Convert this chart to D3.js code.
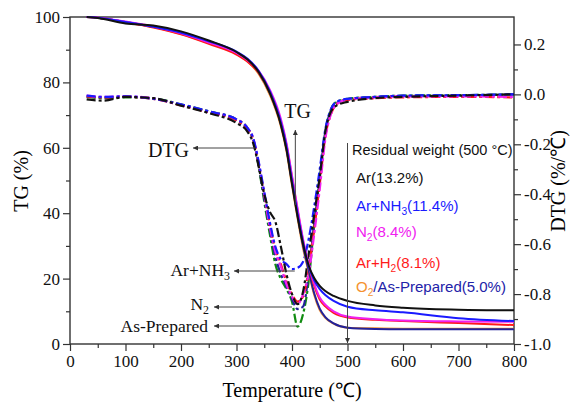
<!DOCTYPE html>
<html>
<head>
<meta charset="utf-8">
<script src="https://cdn.jsdelivr.net/npm/d3@7"></script>
<style>
  body { margin: 0; background: #fff; }
  svg { display: block; }
</style>
</head>
<body>
<svg></svg>
<script>
var width = 570;
var height = 403;

// ---- data ----
var tgTemps = [30, 50, 100, 150, 200, 250, 300, 320, 340, 360, 380, 390, 400, 410, 420, 430, 440, 450, 460, 475, 500, 550, 600, 700, 800];
var tgAr       = [100, 99.7, 98.0, 97.4, 95.6, 92.8, 89.3, 87.0, 83.2, 76.8, 67.0, 59.5, 49.0, 39.0, 30.5, 24.0, 20.2, 17.8, 16.2, 14.7, 13.2, 11.8, 11.1, 10.5, 10.3];
var tgArNH3    = [100, 99.8, 98.5, 97.0, 95.2, 92.6, 89.4, 87.2, 83.5, 77.3, 67.8, 60.5, 50.0, 40.0, 31.0, 23.8, 19.5, 16.8, 15.0, 13.2, 11.4, 10.3, 9.7, 7.9, 7.0];
var tgN2       = [100, 99.8, 98.6, 97.1, 95.0, 92.2, 89.0, 86.8, 83.5, 77.8, 68.8, 61.5, 51.5, 41.5, 32.0, 24.5, 18.5, 14.2, 12.0, 10.0, 8.4, 7.6, 7.2, 6.9, 6.8];
var tgArH2     = [100, 99.8, 98.4, 96.8, 94.7, 91.8, 88.5, 86.3, 83.0, 77.2, 68.2, 61.0, 51.0, 41.0, 31.5, 24.0, 17.8, 13.6, 11.5, 9.5, 8.1, 7.4, 7.0, 6.4, 5.8];
var tgAsPrep   = [100, 99.8, 98.5, 97.0, 95.0, 92.3, 89.0, 86.7, 83.0, 76.8, 67.2, 59.8, 49.5, 39.5, 30.0, 22.5, 15.5, 10.8, 8.2, 6.3, 5.0, 4.6, 4.5, 4.5, 4.5];
var tgO2       = [100, 99.8, 98.4, 96.9, 94.8, 92.0, 88.7, 86.4, 82.6, 76.2, 66.5, 59.0, 48.5, 38.5, 29.2, 22.0, 15.0, 10.4, 8.0, 6.2, 5.0, 4.8, 4.7, 4.7, 4.7];

var dtgTemps = [30, 60, 100, 150, 200, 250, 300, 320, 330, 340, 350, 360, 370, 380, 390, 400, 410, 420, 430, 440, 450, 460, 470, 480, 500, 550, 600, 700, 800];
var dtgAr     = [-0.020, -0.025, -0.010, -0.015, -0.045, -0.075, -0.115, -0.150, -0.195, -0.290, -0.400, -0.470, -0.510, -0.610, -0.720, -0.800, -0.840, -0.790, -0.640, -0.480, -0.330, -0.150, -0.070, -0.045, -0.030, -0.015, -0.010, -0.005, 0.000];
var dtgArNH3  = [-0.005, -0.010, -0.008, -0.018, -0.040, -0.068, -0.100, -0.135, -0.175, -0.270, -0.390, -0.510, -0.610, -0.660, -0.680, -0.700, -0.695, -0.670, -0.580, -0.450, -0.300, -0.140, -0.060, -0.030, -0.018, -0.010, -0.005, -0.003, 0.000];
var dtgN2     = [-0.005, -0.010, -0.008, -0.016, -0.042, -0.070, -0.100, -0.135, -0.175, -0.275, -0.400, -0.530, -0.630, -0.690, -0.760, -0.810, -0.840, -0.800, -0.720, -0.560, -0.380, -0.180, -0.080, -0.040, -0.020, -0.012, -0.008, -0.008, -0.010];
var dtgArH2   = [-0.008, -0.012, -0.010, -0.018, -0.044, -0.072, -0.105, -0.140, -0.180, -0.280, -0.400, -0.520, -0.620, -0.680, -0.750, -0.800, -0.830, -0.810, -0.700, -0.540, -0.360, -0.170, -0.080, -0.040, -0.022, -0.015, -0.012, -0.010, -0.012];
var dtgAsPrep = [-0.010, -0.015, -0.012, -0.016, -0.040, -0.068, -0.100, -0.135, -0.180, -0.290, -0.430, -0.560, -0.680, -0.740, -0.780, -0.830, -0.930, -0.880, -0.750, -0.520, -0.330, -0.150, -0.060, -0.030, -0.018, -0.010, -0.005, -0.003, 0.000];
var dtgO2     = [-0.008, -0.012, -0.010, -0.017, -0.042, -0.070, -0.102, -0.138, -0.180, -0.285, -0.415, -0.540, -0.650, -0.720, -0.770, -0.820, -0.860, -0.850, -0.720, -0.520, -0.340, -0.150, -0.065, -0.035, -0.020, -0.010, -0.006, -0.004, 0.000];

var xTicks = [0, 100, 200, 300, 400, 500, 600, 700, 800];
var xMinor = [50, 150, 250, 350, 450, 550, 650, 750];
var tgTicks = [0, 20, 40, 60, 80, 100];
var tgMinor = [10, 30, 50, 70, 90];
var dtgTicks = [-1.0, -0.8, -0.6, -0.4, -0.2, 0.0, 0.2];
var dtgMinor = [-0.9, -0.7, -0.5, -0.3, -0.1, 0.1];

var legendTitle = 'Residual weight (500 \u00B0C)';
var legendRows = [
  [{t: 'Ar(13.2%)', c: '#111'}],
  [{t: 'Ar+NH', c: '#1a1aff'}, {t: '3', c: '#1a1aff', sub: true}, {t: '(11.4%)', c: '#1a1aff'}],
  [{t: 'N', c: '#f020f0'}, {t: '2', c: '#f020f0', sub: true}, {t: '(8.4%)', c: '#f020f0'}],
  [{t: 'Ar+H', c: '#ff1a1a'}, {t: '2', c: '#ff1a1a', sub: true}, {t: '(8.1%)', c: '#ff1a1a'}],
  [{t: 'O', c: '#f5922e'}, {t: '2', c: '#f5922e', sub: true}, {t: '/As-Prepared(5.0%)', c: '#2222a8'}]
];

var serif = '"Liberation Serif", "Times New Roman", serif';
var sans = '"Liberation Sans", Arial, sans-serif';

var svg = d3.select('svg')
  .attr('width', width)
  .attr('height', height)
  .style('background-color', '#fff');

var x = d3.scaleLinear().domain([0, 800]).range([70, 514]);
var yTG = d3.scaleLinear().domain([0, 100]).range([344, 17]);
var yDTG = d3.scaleLinear().domain([-1.0, 0.31]).range([344, 17]);

svg.append('defs').append('marker')
  .attr('id', 'arr')
  .attr('viewBox', '0 0 10 10')
  .attr('refX', 10).attr('refY', 5)
  .attr('markerWidth', 7).attr('markerHeight', 5)
  .attr('orient', 'auto')
  .append('path').attr('d', 'M0,0 L10,5 L0,10 z').attr('fill', '#333');

// ---- axes ----
function styleAxis(g) {
  g.attr('font-family', serif).attr('font-size', 17);
  g.select('.domain').remove();
  g.selectAll('line').attr('stroke', '#333').attr('stroke-width', 1.2);
  g.selectAll('text').attr('font-family', serif).attr('font-size', 17).attr('fill', '#111');
}

svg.append('g').attr('transform', 'translate(0,344)')
  .call(d3.axisBottom(x).tickValues(xTicks).tickSize(7).tickPadding(4).tickFormat(d3.format('d')))
  .call(styleAxis);
svg.append('g').attr('transform', 'translate(0,344)')
  .call(d3.axisBottom(x).tickValues(xMinor).tickSize(4).tickFormat(''))
  .call(styleAxis);

svg.append('g').attr('transform', 'translate(70,0)')
  .call(d3.axisLeft(yTG).tickValues(tgTicks).tickSize(7).tickPadding(3))
  .call(styleAxis);
svg.append('g').attr('transform', 'translate(70,0)')
  .call(d3.axisLeft(yTG).tickValues(tgMinor).tickSize(4).tickFormat(''))
  .call(styleAxis);

svg.append('g').attr('transform', 'translate(514,0)')
  .call(d3.axisRight(yDTG).tickValues(dtgTicks).tickSize(7).tickPadding(3)
    .tickFormat(function(d) { return d.toFixed(1); }))
  .call(styleAxis);
svg.append('g').attr('transform', 'translate(514,0)')
  .call(d3.axisRight(yDTG).tickValues(dtgMinor).tickSize(4).tickFormat(''))
  .call(styleAxis);

svg.append('rect')
  .attr('x', 70).attr('y', 17)
  .attr('width', 444).attr('height', 327)
  .attr('fill', 'none').attr('stroke', '#333').attr('stroke-width', 1.4);

// axis titles
svg.append('text')
  .attr('transform', 'translate(28,181) rotate(-90)')
  .attr('text-anchor', 'middle')
  .attr('font-family', serif).attr('font-size', 20)
  .text('TG (%)');
svg.append('text')
  .attr('transform', 'translate(565,181) rotate(-90)')
  .attr('text-anchor', 'middle')
  .attr('font-family', serif).attr('font-size', 20)
  .text('DTG (%/\u2103)');
svg.append('text')
  .attr('x', 292).attr('y', 397)
  .attr('text-anchor', 'middle')
  .attr('font-family', serif).attr('font-size', 20)
  .text('Temperature (\u2103)');

// ---- curves ----
function zip(ts, vs) { return ts.map(function(t, i) { return [t, vs[i]]; }); }

var dtgLine = d3.line()
  .x(function(d) { return x(d[0]); })
  .y(function(d) { return yDTG(d[1]); })
  .curve(d3.curveMonotoneX);
var tgLine = d3.line()
  .x(function(d) { return x(d[0]); })
  .y(function(d) { return yTG(d[1]); })
  .curve(d3.curveMonotoneX);

var dtgSeries = [
  {v: dtgAsPrep, c: '#118c11'},
  {v: dtgO2, c: '#22229a'},
  {v: dtgArH2, c: '#ff1a1a'},
  {v: dtgN2, c: '#f020f0'},
  {v: dtgArNH3, c: '#1a1aff'},
  {v: dtgAr, c: '#111'}
];
svg.append('g').selectAll('path')
  .data(dtgSeries)
  .enter().append('path')
    .attr('d', function(d) { return dtgLine(zip(dtgTemps, d.v)); })
    .attr('fill', 'none')
    .attr('stroke', function(d) { return d.c; })
    .attr('stroke-width', 2.2)
    .attr('stroke-dasharray', '9,3,3,3');

var tgSeries = [
  {v: tgO2, c: '#f5922e'},
  {v: tgAsPrep, c: '#22229a'},
  {v: tgArH2, c: '#ff1a1a'},
  {v: tgN2, c: '#f020f0'},
  {v: tgArNH3, c: '#1a1aff'},
  {v: tgAr, c: '#111'}
];
svg.append('g').selectAll('path')
  .data(tgSeries)
  .enter().append('path')
    .attr('d', function(d) { return tgLine(zip(tgTemps, d.v)); })
    .attr('fill', 'none')
    .attr('stroke', function(d) { return d.c; })
    .attr('stroke-width', 2);

// ---- annotations ----
function arrow(x1, y1, x2, y2) {
  svg.append('line')
    .attr('x1', x1).attr('y1', y1).attr('x2', x2).attr('y2', y2)
    .attr('stroke', '#444').attr('stroke-width', 1)
    .attr('marker-end', 'url(#arr)');
}
function label(tx, ty, parts, anchor, size, font) {
  var t = svg.append('text')
    .attr('x', tx).attr('y', ty)
    .attr('text-anchor', anchor)
    .attr('font-family', font).attr('font-size', size);
  parts.forEach(function(p, i) {
    var s = t.append('tspan').text(p.t).attr('fill', p.c || '#111');
    if (p.sub) s.attr('font-size', size * 0.68).attr('dy', 3.5);
    else if (i > 0 && parts[i - 1].sub) s.attr('dy', -3.5);
  });
}

arrow(x(406), 205, x(406), 130);
label(x(410), 118, [{t: 'TG'}], 'middle', 20, serif);

arrow(x(333), 148, 193, 148);
label(189, 157, [{t: 'DTG'}], 'end', 20, serif);

arrow(x(405), 271, 234, 271);
label(230, 276, [{t: 'Ar+NH'}, {t: '3', sub: true}], 'end', 17.5, serif);

arrow(x(400), 307, 214, 307);
label(209, 310, [{t: 'N'}, {t: '2', sub: true}], 'end', 17.5, serif);

arrow(x(410), 326, 214, 326);
label(208, 332, [{t: 'As-Prepared'}], 'end', 17.5, serif);

arrow(x(500), 143, x(500), 343);

// legend
label(352, 155, [{t: legendTitle}], 'start', 14.5, sans);
var rowY = [183, 211, 237, 268, 292];
legendRows.forEach(function(parts, i) {
  label(356, rowY[i], parts, 'start', 15, sans);
});
</script>
</body>
</html>
